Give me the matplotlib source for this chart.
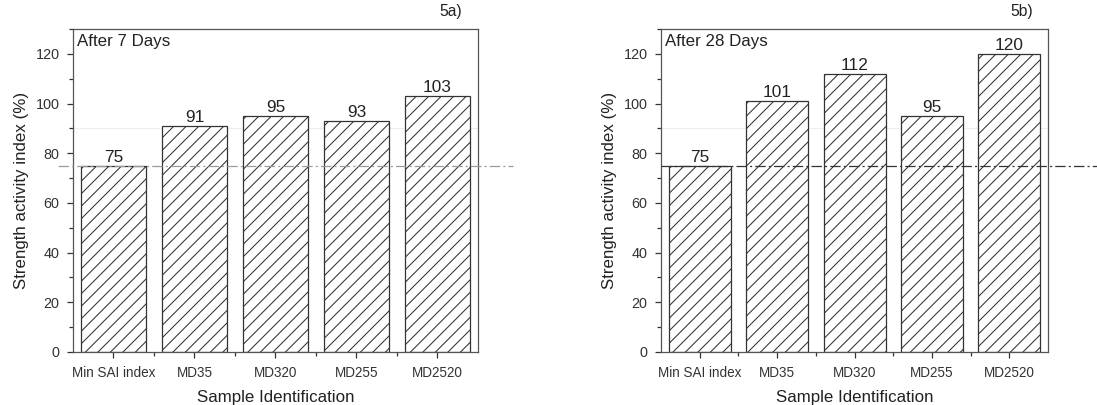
import matplotlib
matplotlib.use("Agg")
import matplotlib.pyplot as plt
from matplotlib.ticker import MultipleLocator, FixedLocator

# datos
samples = ["Min SAI index", "MD35", "MD320", "MD255", "MD2520"]
sai_7d = [75, 91, 95, 93, 103]
sai_28d = [75, 101, 112, 95, 120]
min_sai = 75

plt.rcParams['font.family'] = ['Liberation Sans', 'DejaVu Sans']
plt.rcParams['hatch.linewidth'] = 0.5
plt.rcParams['lines.scale_dashes'] = False

fig = plt.figure(figsize=(1097 / 150, 405 / 150), dpi=150)
ax1 = fig.add_axes([0.0665, 0.1309, 0.3692, 0.7975])
ax2 = fig.add_axes([0.6026, 0.1309, 0.3528, 0.7975])

paneles = [
    (ax1, sai_7d, "After 7 Days", "5a)", "#9a9a9a", (-0.037, 1.086)),
    (ax2, sai_28d, "After 28 Days", "5b)", "#333333", (0.0, 1.13)),
]

for ax, vals, title, tag, lcol, lext in paneles:
    x = list(range(len(samples)))
    ax.bar(x, vals, width=0.8, color='white', edgecolor='#333333',
           linewidth=0.6, hatch='////', zorder=2)
    for xi, v in zip(x, vals):
        ax.annotate(str(v), (xi, v), xytext=(0, 0.5), textcoords='offset points',
                    ha='center', va='bottom', fontsize=8.3, color='#222222')

    # linea de referencia (SAI minimo)
    ax.plot(lext, [min_sai, min_sai], transform=ax.get_yaxis_transform(),
            color=lcol, lw=0.6, dashes=(5, 1.5, 1, 1.5), clip_on=False, zorder=3)
    # linea muy tenue a 90
    ax.axhline(90, color='#eeeeee', lw=0.5, zorder=1)

    ax.set_xlim(-0.5, len(samples) - 0.5)
    ax.set_ylim(0, 130)
    ax.yaxis.set_major_locator(MultipleLocator(20))
    ax.yaxis.set_minor_locator(MultipleLocator(10))
    ax.set_yticks([0, 20, 40, 60, 80, 100, 120])
    ax.set_xticks(x)
    ax.set_xticklabels(samples)
    ax.xaxis.set_minor_locator(FixedLocator([i + 0.5 for i in x[:-1]]))
    ax.tick_params(which='both', direction='out', top=False, right=False,
                   colors='#333333', width=0.6)
    ax.tick_params(axis='x', labelsize=6.5)
    ax.tick_params(axis='y', labelsize=6.9)
    ax.tick_params(which='major', length=3)
    ax.tick_params(which='minor', length=1.8)
    for s in ax.spines.values():
        s.set_color('#555555')
        s.set_linewidth(0.6)

    ax.set_xlabel("Sample Identification", fontsize=8.1, color='#222222', labelpad=5)
    ax.set_ylabel("Strength activity index (%)", fontsize=8.1, color='#222222', labelpad=3)
    ax.text(0.01, 0.985, title, transform=ax.transAxes, ha='left', va='top',
            fontsize=8.1, color='#222222')
    ax.text(0.96, 1.03, tag, transform=ax.transAxes, ha='right', va='bottom',
            fontsize=7.5, color='#222222')

fig.savefig("out.png", dpi=150)
